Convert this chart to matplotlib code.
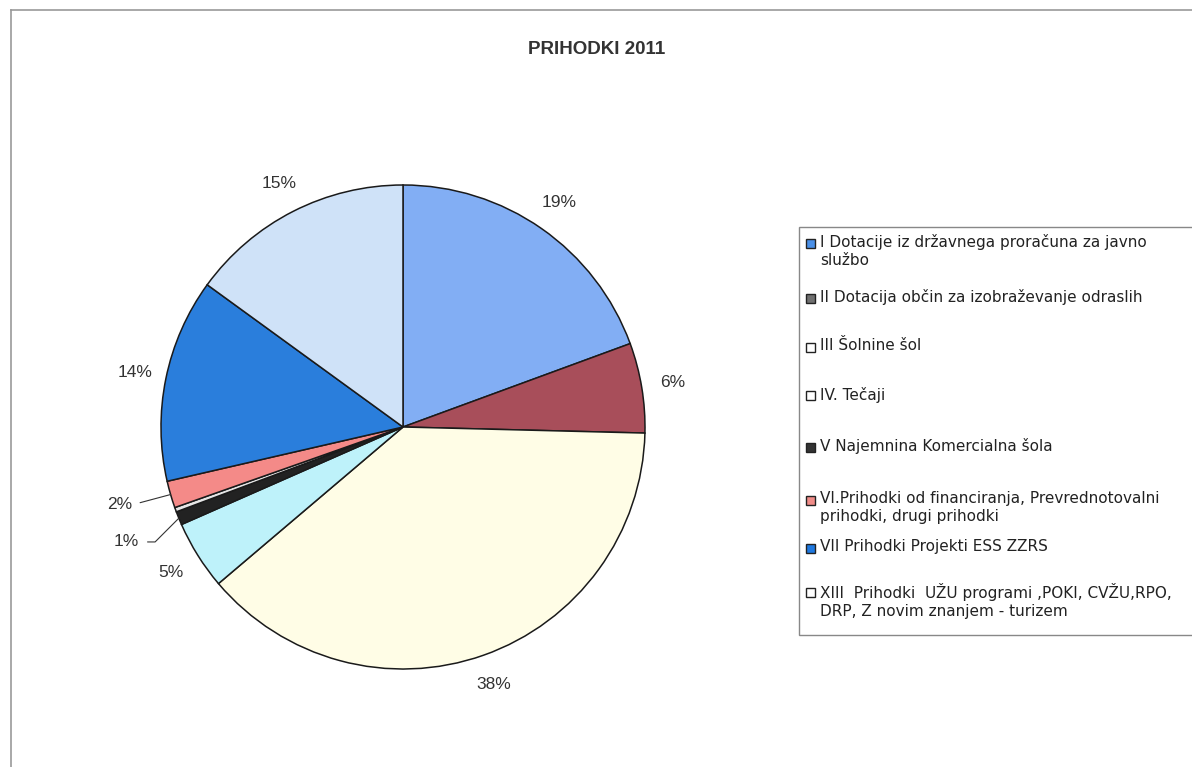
import numpy as np
import matplotlib
matplotlib.use("Agg")
from matplotlib import pyplot as plt
from matplotlib.patches import Rectangle
from matplotlib.lines import Line2D

plt.rcParams['font.family'] = ['Liberation Sans', 'DejaVu Sans']

# slice shares (%), clockwise from 12 o'clock
categories = [
    "I Dotacije iz državnega proračuna za javno\nslužbo",
    "II Dotacija občin za izobraževanje odraslih",
    "III Šolnine šol",
    "IV. Tečaji",
    "V Najemnina Komercialna šola",
    "",  # tiny unlabelled sliver
    "VI.Prihodki od financiranja, Prevrednotovalni\nprihodki, drugi prihodki",
    "VII Prihodki Projekti ESS ZZRS",
    "XIII  Prihodki  UŽU programi ,POKI, CVŽU,RPO,\nDRP, Z novim znanjem - turizem",
]
values = [19.4, 6.0, 38.4, 4.6, 0.9, 0.3, 1.8, 13.6, 15.0]
pct_labels = ["19%", "6%", "38%", "5%", "1%", "", "2%", "14%", "15%"]
colors = ["#82AEF4", "#A84E5A", "#FFFDE6", "#BEF2FA", "#222222",
          "#E6E6E6", "#F48A88", "#2A7EDC", "#CFE2F8"]
legend_colors = ["#4A90E8", "#707070", "#FFFFFF", "#FFFFFF", "#333333",
                 "#F08C88", "#1E78E0", "#FFFFFF"]

W, H = 1192, 767
fig = plt.figure(figsize=(W / 100, H / 100), dpi=100)

def fx(px):
    return px / W

def fy(py):
    return 1 - py / H

# chart frame (only left and top visible in the scan)
fig.add_artist(Line2D([fx(11), fx(11)], [fy(10), fy(767)], color="#999999", lw=1.2))
fig.add_artist(Line2D([fx(11), fx(1192)], [fy(10), fy(10)], color="#999999", lw=1.2))

fig.text(fx(597), fy(50), "PRIHODKI 2011", ha="center", va="center",
         fontsize=13.5, fontweight="bold", color="#333333")

cx, cy, R = 403, 427, 242
ax = fig.add_axes([fx(cx - R), fy(cy + R), 2 * R / W, 2 * R / H])
ax.axis("off")

wedges, _ = ax.pie(values, colors=colors, startangle=90, counterclock=False,
                   radius=1.0,
                   wedgeprops=dict(edgecolor="#1a1a1a", linewidth=1.1))
ax.set_xlim(-1, 1)
ax.set_ylim(-1, 1)

# small slices get their labels out to the left with a leader line
small_pos = {4: (-1.09, -0.475, 45), 6: (-1.12, -0.322, 15)}
for i, w in enumerate(wedges):
    if not pct_labels[i]:
        continue
    ang = np.deg2rad((w.theta1 + w.theta2) / 2)
    if i in small_pos:
        tx, ty, angb = small_pos[i]
        ax.annotate(pct_labels[i], xy=(np.cos(ang), np.sin(ang)),
                    xytext=(tx, ty), ha="right", va="center",
                    fontsize=12.5, color="#333333", annotation_clip=False,
                    arrowprops=dict(arrowstyle="-", color="#333333", lw=0.8,
                                    shrinkA=4, shrinkB=0,
                                    connectionstyle=f"angle,angleA=0,angleB={angb},rad=0"))
    else:
        d = 1.13
        ax.text(d * np.cos(ang), d * np.sin(ang), pct_labels[i],
                ha="center", va="center", fontsize=12.5, color="#333333")

# legend box
fig.add_artist(Rectangle((fx(799), fy(635)), fx(1192) - fx(799) + 0.01,
                         fy(227) - fy(635), transform=fig.transFigure,
                         facecolor="white", edgecolor="#888888", lw=1.0))

legend_rows = [243, 298, 347, 396, 447, 500, 548, 592]
labels = [c for c in categories if c]
for lab, col, yy in zip(labels, legend_colors, legend_rows):
    fig.add_artist(Rectangle((fx(806), fy(yy + 4.5)), 9 / W, 9 / H,
                             transform=fig.transFigure, facecolor=col,
                             edgecolor="#222222", lw=1.0))
    fig.text(fx(820), fy(yy - 9), lab, ha="left", va="top", fontsize=11,
             family="DejaVu Sans", color="#222222", linespacing=1.25)

fig.savefig("out.png", dpi=100, facecolor="white")
